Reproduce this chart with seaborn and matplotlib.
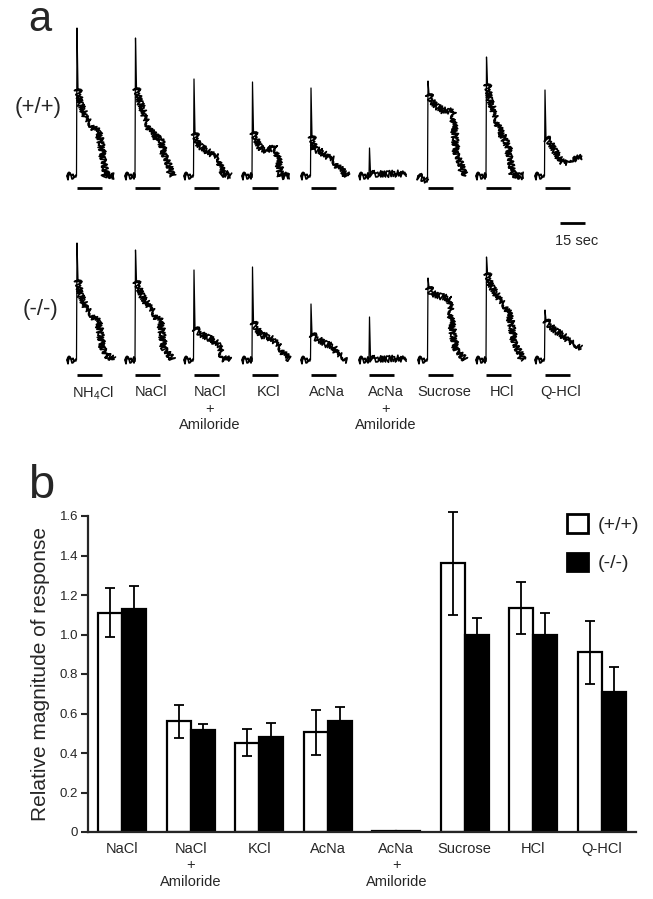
import matplotlib
matplotlib.use("Agg")
import matplotlib.pyplot as plt
from matplotlib.patches import Patch
import numpy as np
import pandas as pd
import seaborn as sns

# ---- panel a: whole-nerve traces (amplitude relative to baseline, arbitrary units)
TRACE_LABELS = ["NH$_4$Cl", "NaCl", "NaCl\n+\nAmiloride", "KCl", "AcNa",
                "AcNa\n+\nAmiloride", "Sucrose", "HCl", "Q-HCl"]
TRACE_TIME_S = [-6, -0.3, 0, 0.6, 2, 5, 9, 13, 15, 17, 22]
STIM_DURATION_S = 15

WT_TRACES = [
    [0, 0, 148, 87, 72, 59, 50, 44, 27, 0, 0],
    [0, 0, 138, 88, 78, 61, 45, 38, 38, 23, 0],
    [0, 0, 97, 43, 33, 28, 23, 20, 18, 3, 0],
    [0, 0, 94, 44, 37, 27, 25, 30, 22, 0, 0],
    [0, 0, 88, 40, 27, 25, 20, 17, 12, 8, 0],
    [0, 0, 28, 3, 2, 2, 2, 2, 2, 2, 2],
    [0, -5, 95, 82, 75, 70, 65, 65, 65, 22, 0],
    [0, 0, 119, 92, 75, 60, 42, 30, 5, 0, 0],
    [0, 0, 86, 38, 36, 28, 15, 13, 16, 18, 18],
]
KO_TRACES = [
    [0, 0, 117, 80, 65, 53, 45, 38, 15, 5, 0],
    [0, 0, 110, 79, 72, 60, 52, 42, 39, 12, 0],
    [0, 0, 90, 32, 29, 25, 22, 17, 15, 2, 0],
    [0, 0, 93, 38, 33, 25, 23, 19, 16, 11, 0],
    [0, 0, 56, 26, 23, 20, 16, 13, 8, 5, 0],
    [0, 0, 43, 2, 1, 1, 1, 1, 1, 1, 1],
    [0, 0, 82, 73, 67, 65, 63, 60, 25, 10, 0],
    [0, 0, 103, 87, 77, 67, 58, 50, 35, 15, 0],
    [0, 0, 50, 40, 36, 31, 26, 21, 18, 16, 13],
]

# ---- panel b: relative magnitude of response
BAR_STIMULI = ["NaCl", "NaCl\n+\nAmiloride", "KCl", "AcNa", "AcNa\n+\nAmiloride",
               "Sucrose", "HCl", "Q-HCl"]
GENOTYPES = ["(+/+)", "(-/-)"]
WT_MEAN = [1.11, 0.56, 0.453, 0.505, 0.005, 1.36, 1.135, 0.91]
WT_ERR = [0.125, 0.082, 0.066, 0.115, 0.0, 0.26, 0.13, 0.16]
KO_MEAN = [1.13, 0.515, 0.482, 0.56, 0.005, 0.995, 0.995, 0.707]
KO_ERR = [0.118, 0.032, 0.07, 0.073, 0.0, 0.089, 0.115, 0.13]

W, H = 653, 899
SEC_PER_PX = 0.6
FIRST_ONSET_PX = 77
ONSET_STEP_PX = 58.5

sns.set_style("ticks")
plt.rcParams["font.family"] = ["Liberation Sans", "DejaVu Sans"]
plt.rcParams["mathtext.default"] = "regular"


def px_axes(fig, top, bottom, left=0, right=W):
    return fig.add_axes([left / W, 1 - bottom / H, (right - left) / W, (bottom - top) / H])


def noisy_plot(ax, t, amp):
    # recording noise is drawn as a line style (sketch), not as data
    for scale, length in [(3.8, 0.4), (3.0, 0.7)]:
        line, = ax.plot(t, amp, color="black", lw=1.2)
        line.set_sketch_params(scale=scale, length=length, randomness=2)


def draw_traces(ax, traces, baseline_px, top_px, bottom_px, bar_offset):
    ax.set_xlim(0, W * SEC_PER_PX)
    ax.set_ylim(baseline_px - bottom_px, baseline_px - top_px)
    ax.set_axis_off()
    for i, amp in enumerate(traces):
        onset = (FIRST_ONSET_PX + ONSET_STEP_PX * i) * SEC_PER_PX
        t = onset + np.asarray(TRACE_TIME_S, dtype=float)
        amp = np.asarray(amp, dtype=float)
        # thin spike at stimulus onset
        ax.plot(t[1:4], amp[1:4], color="black", lw=0.9)
        # noisy baseline before onset and noisy tonic phase
        noisy_plot(ax, t[:2], amp[:2])
        noisy_plot(ax, t[3:], amp[3:])
        ax.plot([onset, onset + STIM_DURATION_S], [bar_offset, bar_offset],
                color="black", lw=2, solid_capstyle="butt")


fig = plt.figure(figsize=(W / 100, H / 100), dpi=100)

ax_top = px_axes(fig, 0, 250)
draw_traces(ax_top, WT_TRACES, 176, 0, 250, -12)
# 15 s scale bar
sb_x = 560 * SEC_PER_PX
ax_top.plot([sb_x, sb_x + STIM_DURATION_S], [-47, -47], color="black", lw=2,
            solid_capstyle="butt")
ax_top.text(577 * SEC_PER_PX, -65, "15 sec", ha="center", va="center", fontsize=10.5)

ax_bot = px_axes(fig, 230, 440)
draw_traces(ax_bot, KO_TRACES, 360, 230, 440, -15)
for i, lab in enumerate(TRACE_LABELS):
    x = (FIRST_ONSET_PX + 16 + ONSET_STEP_PX * i) * SEC_PER_PX
    ax_bot.text(x, -25, lab, ha="center", va="top", fontsize=10.5, linespacing=1.25)

fig.text(28 / W, 1 - 31 / H, "a", fontsize=30, va="baseline", ha="left")
fig.text(38 / W, 1 - 107 / H, "(+/+)", fontsize=16, ha="center", va="center")
fig.text(41 / W, 1 - 310 / H, "(-/-)", fontsize=16, ha="center", va="center")

# ---- panel b
ax_b = px_axes(fig, 516, 832, 88, 636)
df = pd.DataFrame({
    "stimulus": BAR_STIMULI * 2,
    "genotype": [GENOTYPES[0]] * len(BAR_STIMULI) + [GENOTYPES[1]] * len(BAR_STIMULI),
    "response": WT_MEAN + KO_MEAN,
})
sns.barplot(data=df, x="stimulus", y="response", hue="genotype", order=BAR_STIMULI,
            hue_order=GENOTYPES, palette={"(+/+)": "white", "(-/-)": "black"},
            edgecolor="black", linewidth=1.6, width=0.7, gap=0, legend=False, ax=ax_b)

for container, errs in zip(ax_b.containers, [WT_ERR, KO_ERR]):
    for bar, err in zip(container, errs):
        if err <= 0:
            continue
        xc = bar.get_x() + bar.get_width() / 2
        ax_b.errorbar(xc, bar.get_height(), yerr=err, fmt="none", ecolor="black",
                      elinewidth=1.3, capsize=3.5, capthick=1.3, clip_on=False)

ax_b.set_xlim(-0.5, 7.5)
ax_b.set_ylim(0, 1.6)
ticks = np.arange(0, 1.61, 0.2)
ax_b.set_yticks(ticks)
ax_b.set_yticklabels(["0"] + [f"{v:.1f}" for v in ticks[1:]])
ax_b.tick_params(axis="y", direction="out", length=5, width=1.5, labelsize=9.5, pad=2)
ax_b.tick_params(axis="x", length=0, labelsize=10.5, pad=7)
for lab in ax_b.get_xticklabels():
    lab.set_linespacing(1.25)
ax_b.set_xlabel("")
ax_b.set_ylabel("Relative magnitude of response", fontsize=15, va="center")
ax_b.yaxis.set_label_coords(-0.087, 0.5)
sns.despine(ax=ax_b)
for side in ["left", "bottom"]:
    ax_b.spines[side].set_linewidth(1.6)

handles = [Patch(facecolor="white", edgecolor="black", linewidth=2),
           Patch(facecolor="black", edgecolor="black", linewidth=2)]
ax_b.legend(handles, GENOTYPES, loc="upper left", bbox_to_anchor=(0.874, 1.006),
            frameon=False, fontsize=14, handlelength=1.1, handleheight=1.1,
            handletextpad=0.5, labelspacing=0.95, borderpad=0, borderaxespad=0)

fig.text(28 / W, 1 - 498 / H, "b", fontsize=34, va="baseline", ha="left")

fig.savefig("out.png", dpi=100)
